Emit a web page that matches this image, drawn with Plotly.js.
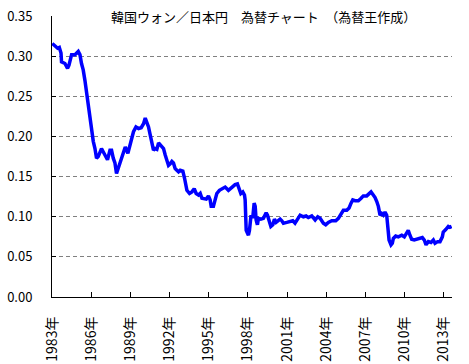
<!DOCTYPE html>
<html>
<head>
<meta charset="utf-8">
<script src="https://cdn.plot.ly/plotly-3.0.1.min.js"></script>
<style>html,body{margin:0;padding:0;background:#fff;}#chart{width:469px;height:364px;}</style>
</head>
<body>
<div id="chart"></div>
<script>
// Decimal years
var years = [1983.02,1983.23,1983.43,1983.56,1983.69,1983.73,1983.99,1984.19,1984.30,1984.50,1984.76,1985.01,1985.14,1985.26,1985.39,1985.52,1985.65,1985.78,1985.91,1986.03,1986.16,1986.29,1986.41,1986.54,1986.79,1986.92,1987.06,1987.25,1987.44,1987.56,1987.69,1987.82,1987.94,1988.10,1988.30,1988.48,1988.61,1988.81,1988.99,1989.12,1989.24,1989.43,1989.63,1989.83,1990.01,1990.14,1990.27,1990.39,1990.52,1990.65,1990.77,1990.90,1991.03,1991.16,1991.29,1991.42,1991.54,1991.67,1991.80,1991.92,1992.05,1992.18,1992.30,1992.43,1992.56,1992.69,1992.82,1993.02,1993.15,1993.33,1993.53,1993.71,1993.89,1994.04,1994.22,1994.35,1994.48,1994.65,1994.81,1994.98,1995.11,1995.19,1995.36,1995.49,1995.62,1995.82,1996.01,1996.26,1996.51,1996.77,1997.02,1997.20,1997.35,1997.46,1997.61,1997.74,1997.79,1997.87,1998.04,1998.12,1998.23,1998.38,1998.48,1998.56,1998.63,1998.73,1998.81,1998.99,1999.19,1999.40,1999.50,1999.65,1999.76,1999.91,2000.03,2000.16,2000.34,2000.47,2000.60,2000.72,2000.98,2001.23,2001.44,2001.61,2001.79,2002.00,2002.25,2002.46,2002.63,2002.89,2003.15,2003.35,2003.53,2003.78,2003.96,2004.16,2004.42,2004.73,2004.93,2005.13,2005.31,2005.57,2005.75,2005.90,2006.03,2006.21,2006.46,2006.67,2006.84,2007.10,2007.28,2007.43,2007.56,2007.74,2007.87,2007.99,2008.12,2008.25,2008.37,2008.50,2008.63,2008.71,2008.81,2008.96,2009.06,2009.14,2009.32,2009.52,2009.78,2009.98,2010.16,2010.28,2010.41,2010.54,2010.74,2010.93,2011.18,2011.36,2011.51,2011.64,2011.82,2012.02,2012.20,2012.33,2012.53,2012.71,2012.89,2012.96,2013.15,2013.35,2013.47,2013.60];
// KRW/JPY rate
var rates = [0.316,0.313,0.310,0.311,0.304,0.293,0.291,0.285,0.289,0.302,0.302,0.306,0.302,0.291,0.283,0.270,0.254,0.237,0.224,0.208,0.194,0.185,0.173,0.175,0.185,0.181,0.177,0.171,0.183,0.183,0.173,0.167,0.154,0.162,0.175,0.183,0.187,0.179,0.189,0.200,0.206,0.212,0.210,0.211,0.216,0.223,0.218,0.212,0.202,0.192,0.183,0.185,0.184,0.192,0.189,0.187,0.185,0.177,0.171,0.164,0.166,0.169,0.167,0.160,0.158,0.156,0.158,0.157,0.148,0.133,0.129,0.131,0.135,0.129,0.127,0.129,0.123,0.123,0.122,0.126,0.121,0.113,0.113,0.121,0.129,0.133,0.135,0.137,0.133,0.137,0.140,0.141,0.133,0.129,0.131,0.127,0.121,0.083,0.077,0.083,0.100,0.100,0.117,0.113,0.096,0.090,0.098,0.097,0.098,0.105,0.102,0.092,0.088,0.090,0.097,0.093,0.096,0.097,0.095,0.092,0.093,0.094,0.095,0.092,0.097,0.102,0.100,0.101,0.099,0.101,0.096,0.100,0.098,0.092,0.090,0.093,0.095,0.095,0.098,0.104,0.108,0.108,0.111,0.117,0.121,0.120,0.120,0.123,0.126,0.126,0.128,0.131,0.128,0.124,0.119,0.113,0.102,0.104,0.102,0.106,0.102,0.088,0.071,0.065,0.067,0.073,0.076,0.075,0.077,0.075,0.079,0.083,0.077,0.072,0.071,0.072,0.074,0.074,0.071,0.065,0.069,0.068,0.071,0.067,0.069,0.069,0.075,0.081,0.084,0.088,0.087,0.088];
var tickYears = [1983,1986,1989,1992,1995,1998,2001,2004,2007,2010,2013];
var tickLabels = ["1983年","1986年","1989年","1992年","1995年","1998年","2001年","2004年","2007年","2010年","2013年"];
var yTicks = [0,0.05,0.10,0.15,0.20,0.25,0.30,0.35];
var titleText = "韓国ウォン／日本円　為替チャート　（為替王作成）";

var FONT = '"Noto Sans CJK JP", "DejaVu Sans", sans-serif';

var trace = {
  x: years, y: rates, type: 'scatter', mode: 'lines',
  line: {color: '#0000FF', width: 3.5}, hoverinfo: 'skip'
};

var layout = {
  width: 469, height: 364,
  margin: {l: 52, r: 17, t: 16, b: 67, pad: 0},
  paper_bgcolor: '#fff', plot_bgcolor: '#fff',
  showlegend: false,
  font: {family: FONT, size: 12, color: '#000'},
  xaxis: {
    range: [1983, 2013.63],
    tickvals: tickYears, ticktext: tickLabels,
    tickangle: -90,
    ticks: 'inside', ticklen: 5, tickcolor: '#000', tickwidth: 1,
    showline: true, linecolor: '#000', linewidth: 1,
    showgrid: false, zeroline: false,
    ticklabelstandoff: 13,
    tickfont: {family: FONT, size: 14, color: '#000'},
    fixedrange: true
  },
  yaxis: {
    range: [0, 0.3502],
    tickvals: yTicks, tickformat: '.2f',
    ticks: 'inside', ticklen: 4, tickcolor: '#000', tickwidth: 1,
    showline: true, linecolor: '#000', linewidth: 1,
    showgrid: true, gridcolor: '#808080', gridwidth: 1, griddash: '4px,3px',
    zeroline: false,
    ticklabelstandoff: 16,
    tickfont: {family: FONT, size: 13, color: '#000'},
    fixedrange: true
  },
  annotations: [{
    text: titleText, xref: 'paper', yref: 'y', x: 0.529, y: 0.35,
    xanchor: 'center', yanchor: 'middle', showarrow: false,
    bgcolor: '#fff', borderpad: 3,
    font: {family: FONT, size: 13, color: '#000'}
  }]
};

Plotly.newPlot('chart', [trace], layout, {displayModeBar: false, staticPlot: true});
</script>
</body>
</html>
